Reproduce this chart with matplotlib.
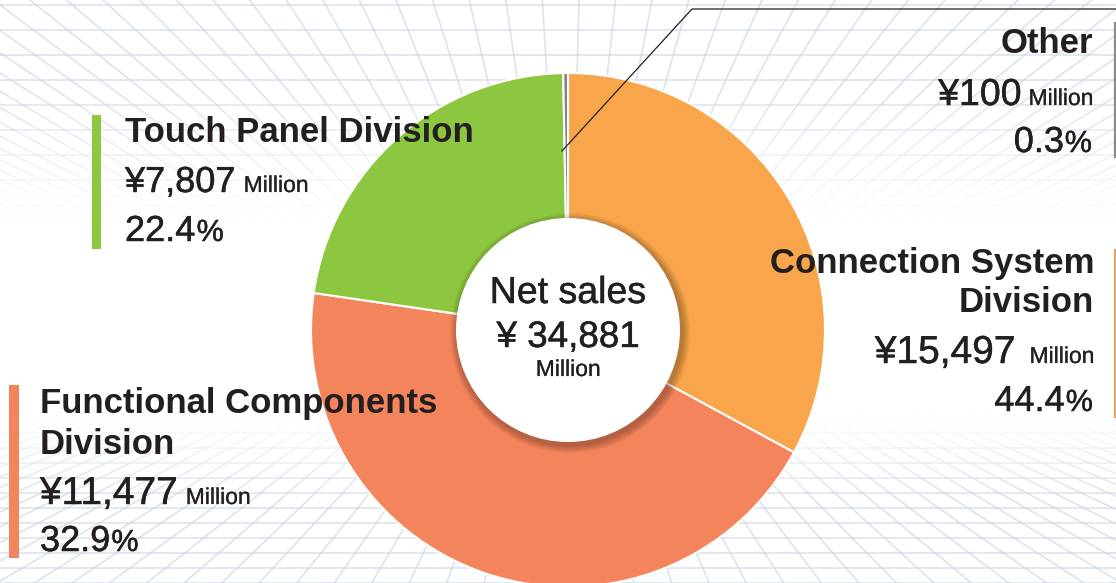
import numpy as np
import matplotlib
matplotlib.use("Agg")
import matplotlib.pyplot as plt
import matplotlib.patheffects as pe
from matplotlib.collections import LineCollection
from matplotlib.patches import Circle, Rectangle

plt.rcParams["font.family"] = ["Liberation Sans", "DejaVu Sans"]

W, H = 1116, 583
INK = "#231F20"


def thick(size):
    return [pe.withStroke(linewidth=0.35 if size > 20 else 0.15, foreground=INK)]


# ---- data (as drawn: wedges clockwise from 12 o'clock) ----
wedge_shares = [32.9, 44.4, 22.4, 0.3]
wedge_colors = ["#F8A54B", "#F4845B", "#8DC63F", "#808285"]

div_names = ["Connection System\nDivision", "Functional Components\nDivision",
             "Touch Panel Division", "Other"]
div_amounts = ["¥15,497", "¥11,477", "¥7,807", "¥100"]
div_shares = ["44.4", "32.9", "22.4", "0.3"]
total_label = "¥ 34,881"

fig = plt.figure(figsize=(W / 100, H / 100), dpi=100)
ax = fig.add_axes([0, 0, 1, 1])

# ---- background: faint perspective grid ----
segs = []
for y in np.arange(5, 280, 25):                 # ceiling rows
    segs.append([(0, y), (W, y)])
vx, vy = 568, 430
for x in np.arange(-900, 2100, 40):              # ceiling rays
    segs.append([(vx, vy), (x, -40)])
for y in np.arange(583, 400, -15):              # floor rows
    segs.append([(0, y), (W, y)])
vx2, vy2 = 568, 250
for x in np.arange(-1500, 2700, 42):             # floor rays
    segs.append([(vx2, vy2), (x, H + 40)])
ax.add_collection(LineCollection(segs, colors="#BFCBDD", linewidths=1.2,
                                 alpha=0.6, zorder=0))

# white haze fading the grid toward the middle band
yy = np.linspace(0, H, 300)[:, None]
xx = np.linspace(0, W, 400)[None, :]
a_top = np.clip((yy - 90) / 170, 0, 1)
a_bot = np.clip((500 - yy) / 110, 0, 1)
alpha = np.minimum(a_top, a_bot) * np.ones_like(xx)
alpha = np.clip(alpha * 1.1 + 0.15, 0, 1)
haze = np.ones(alpha.shape + (4,))
haze[..., 3] = alpha
ax.imshow(haze, extent=(0, W, H, 0), zorder=1, aspect="auto")

# ---- donut ----
cx, cy, R, r_in = 568, 330, 257, 112
ax.pie(wedge_shares, colors=wedge_colors, startangle=270, counterclock=True,
       center=(cx, cy), radius=R,
       wedgeprops=dict(edgecolor="white", linewidth=1.5, zorder=2))
for i in range(8):
    ax.add_patch(Circle((cx + 2, cy + 3), r_in + 1 + i, fc="black",
                        ec="none", alpha=0.035, zorder=3))
ax.add_patch(Circle((cx, cy), r_in, fc="white", ec="none", zorder=4))

ax.set_xlim(0, W)
ax.set_ylim(H, 0)
ax.axis("off")

# leader line to "Other"
ax.plot([562, 692, W], [151, 9, 9], color="#231F20", lw=0.9, zorder=5)

# side bars
ax.add_patch(Rectangle((92, 115), 9, 134, fc="#8DC63F", ec="none", zorder=5))
ax.add_patch(Rectangle((9, 385), 10, 173, fc="#F4845B", ec="none", zorder=5))
ax.plot([1115, 1115], [23, 157], color="#8A8A8A", lw=1.6, zorder=5)
ax.plot([1115, 1115], [250, 417], color="#E8A263", lw=1.6, zorder=5)

# ---- text ----
rend = fig.canvas.get_renderer()


def put_line(x, y, parts, align="left"):
    """parts: (text, size, space after it); laid out from x in align direction"""
    inv = ax.transData.inverted()
    n = len(parts)
    order = range(n) if align == "left" else range(n - 1, -1, -1)
    cur = x
    for i in order:
        txt, size, _ = parts[i]
        t = ax.text(cur, y, txt, fontsize=size, ha=align, va="baseline",
                    color=INK, zorder=6, path_effects=thick(size))
        bb = t.get_window_extent(renderer=rend)
        if align == "left":
            cur = inv.transform((bb.x1, bb.y0))[0] + parts[i][2]
        elif i > 0:
            cur = inv.transform((bb.x0, bb.y0))[0] - parts[i - 1][2]


def header(x, ys, text, align):
    for y, line in zip(ys, text.split("\n")):
        ax.text(x, y, line, fontsize=25, fontweight="bold", ha=align,
                va="baseline", color=INK, zorder=6)


# Connection System (right)
header(1094, [273, 312], div_names[0], "right")
put_line(1094, 363, [(div_amounts[0], 28, 14), ("Million", 16.5, 0)], "right")
put_line(1093, 411, [(div_shares[0], 26, 1), ("%", 22, 0)], "right")

# Functional Components (left)
header(40, [413, 454], div_names[1], "left")
put_line(40, 504, [(div_amounts[1], 28, 8), ("Million", 16.5, 0)], "left")
put_line(40, 551, [(div_shares[1], 26, 1), ("%", 22, 0)], "left")

# Touch Panel (left)
header(125, [142], div_names[2], "left")
put_line(125, 192, [(div_amounts[2], 26, 8), ("Million", 16.5, 0)], "left")
put_line(125, 241, [(div_shares[2], 26, 1), ("%", 22, 0)], "left")

# Other (right)
header(1093, [53], div_names[3], "right")
put_line(1093, 105, [(div_amounts[3], 27, 7), ("Million", 16.5, 0)], "right")
put_line(1092, 152, [(div_shares[3], 26, 1), ("%", 22, 0)], "right")

# centre
for y, txt, size in [(303, "Net sales", 27), (347, total_label, 26.5),
                     (376, "Million", 16.5)]:
    ax.text(cx, y, txt, fontsize=size, ha="center", va="baseline",
            color=INK, zorder=6, path_effects=thick(size))

fig.savefig("out.png", dpi=100)
